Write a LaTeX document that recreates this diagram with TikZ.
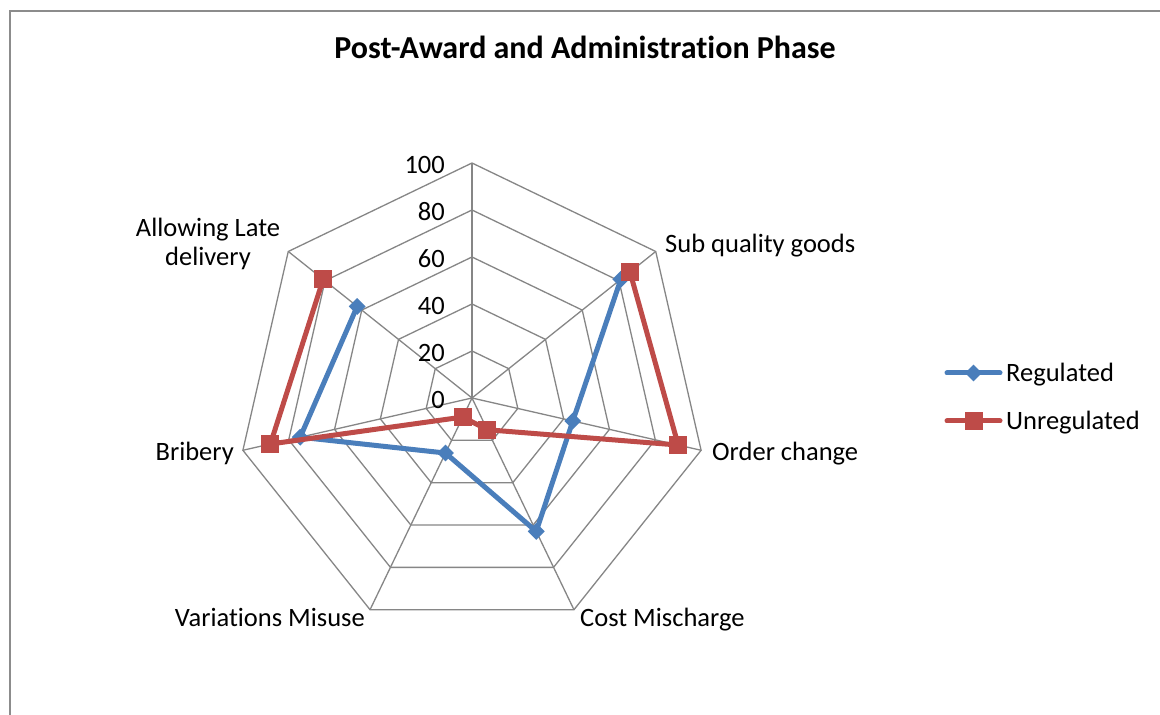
\documentclass[tikz,border=0pt]{standalone}
\usepackage{fontspec}
\setmainfont{Carlito}[Ligatures=NoCommon]
\usetikzlibrary{shapes.geometric}
\definecolor{regblue}{HTML}{4A7EBB}
\definecolor{unred}{HTML}{BE4B48}
\definecolor{gridgray}{HTML}{868686}
\definecolor{framegray}{HTML}{8C8C8C}
\begin{document}
\begin{tikzpicture}[x=1pt,y=1pt,
  gridline/.style={draw=gridgray, line width=1.3pt, line join=miter},
  lbl/.style={font=\fontsize{26.5}{29}\selectfont, inner sep=0pt},
  ticklbl/.style={font=\fontsize{26.5}{29}\selectfont, inner sep=0pt, anchor=east},
  regline/.style={draw=regblue, line width=5pt, line join=round, line cap=round},
  unline/.style={draw=unred, line width=5pt, line join=round, line cap=round},
  regmark/.style={diamond, fill=regblue, minimum size=17pt, inner sep=0pt},
  unmark/.style={rectangle, fill=unred, minimum size=18pt, inner sep=0pt}]
\useasboundingbox (0,0) rectangle (1160,715);
\fill[white] (0,0) rectangle (1160,715);
\draw[draw=framegray, line width=1.5pt] (10,0) -- (10,704) -- (1160,704);

\node[font=\bfseries\fontsize{32}{38}\selectfont, inner sep=0pt, anchor=base] (title) at (585,656) {Post-Award and Administration Phase};

\begin{scope}[shift={(472,317)}]
  \coordinate (C) at (0,0);
  \foreach \r in {20,40,60,80,100} {
    \draw[gridline] (90:{\r*2.35}) \foreach \k in {1,...,6} { -- ({90-\k*360/7}:{\r*2.35}) } -- cycle;
  }
  \foreach \k in {0,...,6} {
    \coordinate (ax\k) at ({90-\k*360/7}:235);
    \draw[gridline] (C) -- (ax\k);
  }
  % data
  \foreach \n/\k/\v in {1/1/81, 2/2/44, 3/3/63, 4/4/26, 5/5/75, 6/6/62.5}
    \coordinate (r\n) at ({90-\k*360/7}:{\v*2.35});
  \foreach \n/\k/\v in {1/1/86, 2/2/90, 3/3/15, 4/4/9, 5/5/88, 6/6/81}
    \coordinate (u\n) at ({90-\k*360/7}:{\v*2.35});
  % tick labels
  \foreach \v in {0,20,40,60,80,100}
    \node[ticklbl] (t\v) at (-27,{\v*2.35-2}) {\v};
\end{scope}

\draw[regline] (r1) -- (r2) -- (r3) -- (r4) -- (r5) -- (r6);
\foreach \n in {1,...,6} \node[regmark] (mr\n) at (r\n) {};
\draw[unline] (u1) -- (u2) -- (u3) -- (u4) -- (u5) -- (u6);
\foreach \n in {1,...,6} \node[unmark] (mu\n) at (u\n) {};

% category labels
\node[lbl, anchor=base west] (lsub) at (665,462) {Sub quality goods};
\node[lbl, anchor=base west] (lord) at (712,254) {Order change};
\node[lbl, anchor=base west] (lcost) at (580,88) {Cost Mischarge};
\node[lbl, anchor=base east] (lvar) at (365,88) {Variations Misuse};
\node[lbl, anchor=base east] (lbri) at (234,254) {Bribery};
\node[lbl, anchor=base, align=center] (lall) at (208,449) {Allowing Late\\delivery};

% legend
\coordinate (lg1a) at (947,342);
\coordinate (lg1b) at (1000,342);
\draw[regline] (lg1a) -- (lg1b);
\node[regmark] (lgm1) at (973.5,342) {};
\node[lbl, anchor=base west] (lgt1) at (1006,333) {Regulated};
\coordinate (lg2a) at (947,294);
\coordinate (lg2b) at (1000,294);
\draw[unline] (lg2a) -- (lg2b);
\node[unmark] (lgm2) at (973.5,294) {};
\node[lbl, anchor=base west] (lgt2) at (1006,285) {Unregulated};
\end{tikzpicture}
\end{document}
